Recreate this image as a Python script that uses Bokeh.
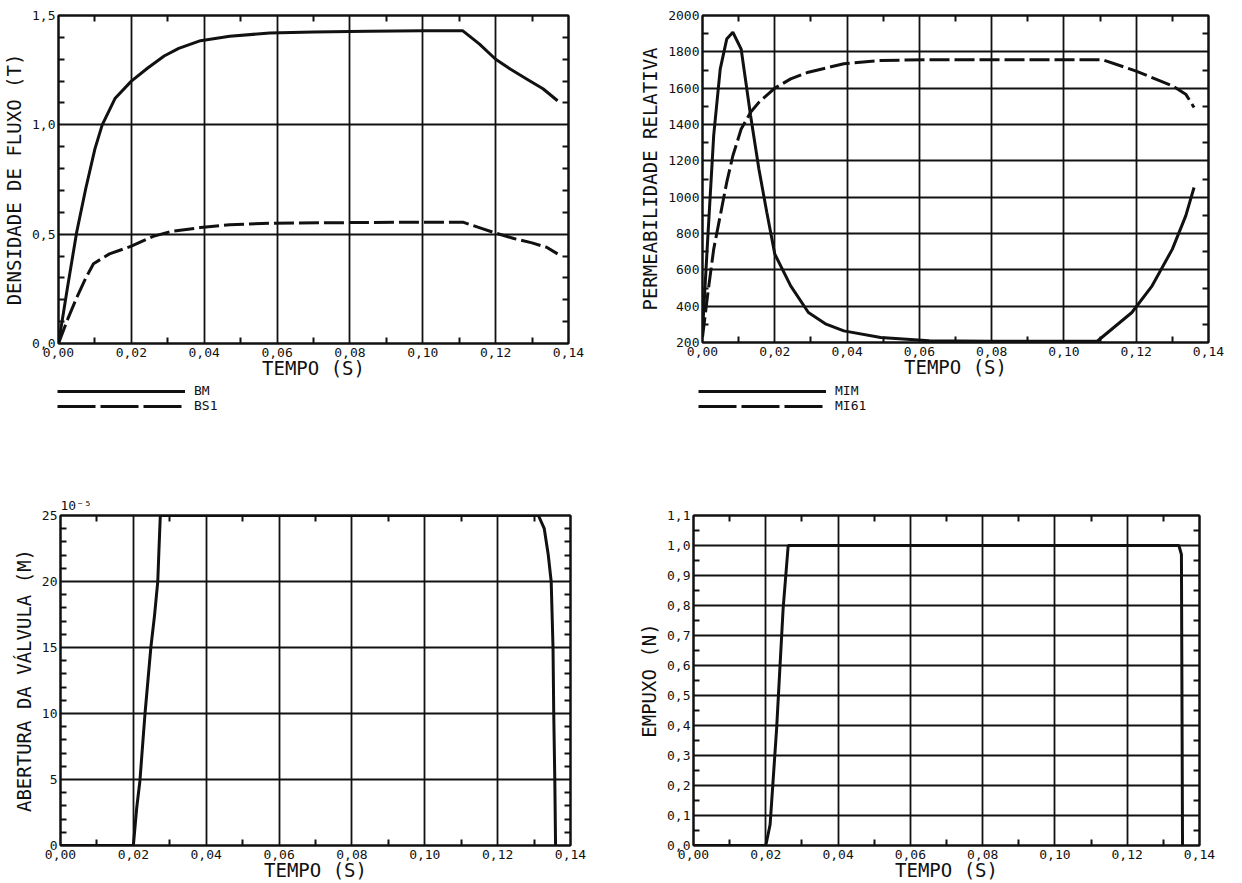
from bokeh.plotting import figure
from bokeh.models import (FixedTicker, LinearAxis, Range1d, Legend, LegendItem)
from bokeh.layouts import column, row
from bokeh.embed import file_html
from bokeh.resources import INLINE

# ---------------- data ----------------
x_ticks = [0.0, 0.02, 0.04, 0.06, 0.08, 0.10, 0.12, 0.14]
x_tick_labels = ["0,00", "0,02", "0,04", "0,06", "0,08", "0,10", "0,12", "0,14"]
x_minor = [0.01, 0.03, 0.05, 0.07, 0.09, 0.11, 0.13]

# Panel 1: flux density (T)
bm_t = [0, 0.0025, 0.005, 0.0075, 0.010, 0.012, 0.0155, 0.020, 0.0245, 0.029, 0.033,
        0.039, 0.047, 0.058, 0.070, 0.085, 0.100, 0.111, 0.1155, 0.120, 0.124, 0.1285,
        0.133, 0.137]
bm_v = [0, 0.26, 0.51, 0.71, 0.89, 1.0, 1.12, 1.20, 1.26, 1.315, 1.35, 1.385, 1.405,
        1.42, 1.425, 1.428, 1.43, 1.43, 1.37, 1.30, 1.255, 1.21, 1.165, 1.11]
bs1_t = [0, 0.0025, 0.005, 0.0075, 0.0096, 0.014, 0.020, 0.026, 0.031, 0.039, 0.047,
         0.058, 0.080, 0.100, 0.111, 0.1155, 0.120, 0.125, 0.130, 0.134, 0.137]
bs1_v = [0, 0.11, 0.21, 0.30, 0.365, 0.41, 0.445, 0.49, 0.513, 0.53, 0.543, 0.55, 0.553,
         0.555, 0.555, 0.53, 0.505, 0.48, 0.46, 0.44, 0.41]
y1_ticks = [0.0, 0.5, 1.0, 1.5]
y1_labels = ["0,0", "0,5", "1,0", "1,5"]
y1_minor = [0.1, 0.2, 0.3, 0.4, 0.6, 0.7, 0.8, 0.9, 1.1, 1.2, 1.3, 1.4]

# Panel 2: relative permeability
mim_t = [0, 0.0015, 0.0031, 0.0049, 0.0067, 0.0084, 0.0107, 0.012, 0.0133, 0.0156,
         0.0178, 0.020, 0.0244, 0.0293, 0.0342, 0.0391, 0.0493, 0.0627, 0.080, 0.100,
         0.1092, 0.1188, 0.1244, 0.130, 0.1337, 0.136]
mim_v = [260, 790, 1340, 1705, 1870, 1908, 1815, 1633, 1450, 1155, 916, 687, 512, 365,
         301, 264, 228, 210, 207, 207, 207, 365, 512, 714, 897, 1053]
mi61_t = [0, 0.0015, 0.0031, 0.0049, 0.0067, 0.0084, 0.0107, 0.0133, 0.0156, 0.020,
          0.0244, 0.0293, 0.0391, 0.0493, 0.0627, 0.080, 0.100, 0.1106, 0.1198, 0.130,
          0.1337, 0.136]
mi61_v = [230, 475, 714, 898, 1081, 1228, 1375, 1467, 1522, 1600, 1651, 1688, 1734,
          1752, 1757, 1757, 1757, 1757, 1695, 1613, 1567, 1494]
y2_ticks = [200, 400, 600, 800, 1000, 1200, 1400, 1600, 1800, 2000]
y2_labels = ["200", "400", "600", "800", "1000", "1200", "1400", "1600", "1800", "2000"]
y2_minor = [300, 500, 700, 900, 1100, 1300, 1500, 1700, 1900]

# Panel 3: valve opening (x 10^-5 m)
va_t = [0, 0.020, 0.0209, 0.0218, 0.0232, 0.0248, 0.0258, 0.0267, 0.0270, 0.0274,
        0.1312, 0.1328, 0.1339, 0.1347, 0.1352, 0.1354, 0.1357, 0.1359]
va_v = [0, 0, 2.8, 4.9, 10, 15, 17.4, 20, 22.2, 25, 25, 24, 22, 20, 15, 10, 4.8, 0]
y3_ticks = [0, 5, 10, 15, 20, 25]
y3_labels = ["0", "5", "10", "15", "20", "25"]
y3_minor = [1, 2, 3, 4, 6, 7, 8, 9, 11, 12, 13, 14, 16, 17, 18, 19, 21, 22, 23, 24]

# Panel 4: thrust (N)
em_t = [0, 0.0200, 0.0212, 0.0230, 0.0248, 0.0262, 0.1343, 0.1350, 0.1353]
em_v = [0, 0, 0.07, 0.39, 0.79, 1.0, 1.0, 0.97, 0.0]
y4_ticks = [0.0, 0.1, 0.2, 0.3, 0.4, 0.5, 0.6, 0.7, 0.8, 0.9, 1.0, 1.1]
y4_labels = ["0,0", "0,1", "0,2", "0,3", "0,4", "0,5", "0,6", "0,7", "0,8", "0,9", "1,0", "1,1"]
y4_minor = [0.05, 0.15, 0.25, 0.35, 0.45, 0.55, 0.65, 0.75, 0.85, 0.95, 1.05]

legend1_labels = ["BM", "BS1"]
legend2_labels = ["MIM", "MI61"]

FONT = "DejaVu Sans Mono"
INK = "#111111"
DASH = "20 5"
KEY_DASH = "38 5"


def make_panel(ylabel, y_range, yt, yl, ym, fw, fh, bl, br, bt, bb):
    p = figure(frame_width=fw, frame_height=fh,
               min_border_left=bl, min_border_right=br,
               min_border_top=bt, min_border_bottom=bb,
               x_range=Range1d(0, 0.14), y_range=Range1d(*y_range),
               output_backend="svg", toolbar_location=None,
               x_axis_label="TEMPO (S)", y_axis_label=ylabel)
    p.outline_line_color = INK
    p.outline_line_width = 2
    p.background_fill_color = "white"
    p.border_fill_color = "white"

    xa = p.xaxis[0]
    xa.ticker = FixedTicker(ticks=x_ticks, minor_ticks=x_minor)
    xa.major_label_overrides = {t: s for t, s in zip(x_ticks, x_tick_labels)}
    ya = p.yaxis[0]
    ya.ticker = FixedTicker(ticks=yt, minor_ticks=ym)
    ya.major_label_overrides = {t: s for t, s in zip(yt, yl)}
    for ax in (xa, ya):
        ax.axis_line_color = INK
        ax.axis_line_width = 2
        ax.major_tick_in = 0
        ax.major_tick_out = 0
        ax.minor_tick_in = 6
        ax.minor_tick_out = 0
        ax.minor_tick_line_color = INK
        ax.minor_tick_line_width = 2
        ax.major_label_text_font = FONT
        ax.major_label_text_font_size = "13px"
        ax.major_label_text_color = INK
        ax.major_label_standoff = 3
        ax.axis_label_text_font = FONT
        ax.axis_label_text_font_size = "19px"
        ax.axis_label_text_font_style = "normal"
        ax.axis_label_text_color = INK
    xa.major_label_standoff = 4
    xa.axis_label_standoff = -3
    ya.axis_label_standoff = 4

    # extra inward minor ticks on top and right sides
    ra = LinearAxis(ticker=FixedTicker(ticks=[], minor_ticks=ym))
    ta = LinearAxis(ticker=FixedTicker(ticks=[], minor_ticks=x_minor))
    for ax in (ra, ta):
        ax.axis_line_color = INK
        ax.axis_line_width = 2
        ax.major_tick_in = 0
        ax.major_tick_out = 0
        ax.minor_tick_in = 6
        ax.minor_tick_out = 0
        ax.minor_tick_line_color = INK
        ax.minor_tick_line_width = 2
        ax.major_label_standoff = 0
    p.add_layout(ra, "right")
    p.add_layout(ta, "above")

    p.xgrid.ticker = FixedTicker(ticks=x_ticks)
    p.ygrid.ticker = FixedTicker(ticks=yt)
    for g in (p.xgrid[0], p.ygrid[0]):
        g.grid_line_color = INK
        g.grid_line_width = 1.8
        g.grid_line_alpha = 1.0
    return p


def make_legend_strip(width, height, labels, series, x0):
    """A thin strip under a panel holding only its legend (solid / dashed keys).
    The series are drawn through the strip's scales but fall outside its view."""
    q = figure(width=width, height=height, x_range=Range1d(0, 1),
               y_range=Range1d(-3000, -2000),
               x_axis_type=None, y_axis_type=None, output_backend="svg",
               toolbar_location=None, min_border=0)
    q.outline_line_color = None
    q.grid.visible = False
    (ts, vs), (td, vd) = series
    r_solid = q.line(ts, vs, line_color=INK, line_width=3)
    r_dash = q.line(td, vd, line_color=INK, line_width=3, line_dash=KEY_DASH)
    leg = Legend(items=[LegendItem(label=labels[0], renderers=[r_solid]),
                        LegendItem(label=labels[1], renderers=[r_dash])],
                 location=(x0, 27), orientation="vertical",
                 glyph_width=128, glyph_height=10, label_height=10,
                 label_standoff=9, spacing=0, padding=0, margin=0,
                 border_line_color=None, background_fill_alpha=0,
                 label_text_font=FONT, label_text_font_size="13px",
                 label_text_color=INK)
    q.add_layout(leg, "center")
    return q


# Panel 1
p1 = make_panel("DENSIDADE DE FLUXO (T)", (0, 1.5), y1_ticks, y1_labels, y1_minor,
                510, 328, 58, 52, 15, 39)
p1.line(bm_t, bm_v, line_color=INK, line_width=3)
p1.line(bs1_t, bs1_v, line_color=INK, line_width=3, line_dash=DASH)

# Panel 2
p2 = make_panel("PERMEABILIDADE RELATIVA", (200, 2000), y2_ticks, y2_labels, y2_minor,
                506, 327, 82, 32, 13, 42)
p2.line(mim_t, mim_v, line_color=INK, line_width=3)
p2.line(mi61_t, mi61_v, line_color=INK, line_width=3, line_dash=DASH)

l1 = make_legend_strip(620, 58, legend1_labels, [(bm_t, bm_v), (bs1_t, bs1_v)], 57)
l2 = make_legend_strip(620, 58, legend2_labels, [(mim_t, mim_v), (mi61_t, mi61_v)], 78)

# Panel 3
p3 = make_panel("ABERTURA DA VÁLVULA (M)", (0, 25), y3_ticks, y3_labels, y3_minor,
                510, 330, 60, 50, 73, 38)
p3.line(va_t, va_v, line_color=INK, line_width=3)
p3.title.text = "10⁻⁵"
p3.title.align = "left"
p3.title.text_font = FONT
p3.title.text_font_size = "13px"
p3.title.text_font_style = "normal"
p3.title.text_color = INK
p3.title.standoff = 6

# Panel 4
p4 = make_panel("EMPUXO (N)", (0, 1.1), y4_ticks, y4_labels, y4_minor,
                506, 330, 73, 41, 75, 36)
p4.line(em_t, em_v, line_color=INK, line_width=3)

layout = column(row(p1, p2), row(l1, l2), row(p3, p4))
open("out.html", "w").write(file_html(layout, INLINE))
